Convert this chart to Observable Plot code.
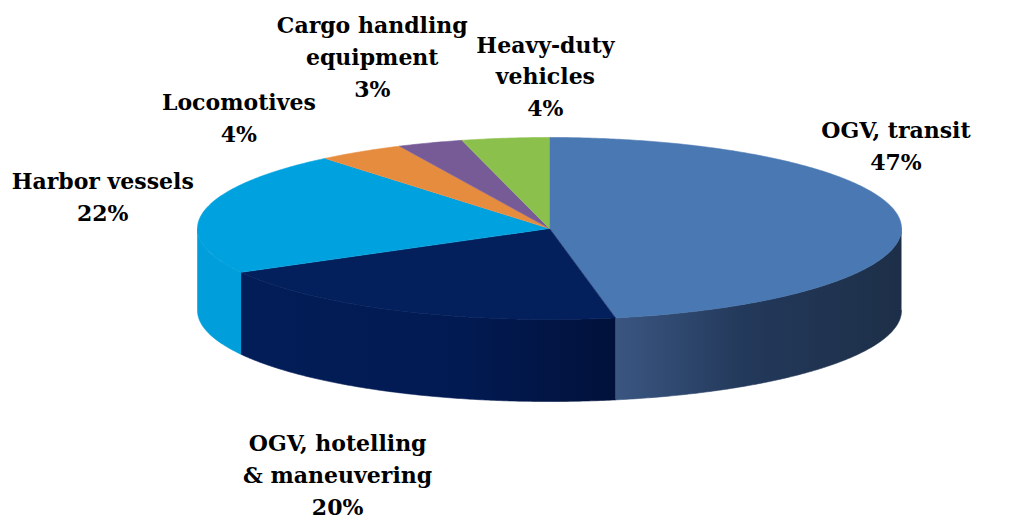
<!DOCTYPE html>
<html><head><meta charset="utf-8">
<script src="https://cdn.jsdelivr.net/npm/d3@7"></script>
<script src="https://cdn.jsdelivr.net/npm/@observablehq/plot@0.6"></script>
<style>body{margin:0;background:#fff}#chart svg{display:block}</style>
</head><body><div id="chart"></div>
<script>
// ---- data ----
const categories = ["OGV, transit", "OGV, hotelling\n& maneuvering", "Harbor vessels", "Locomotives", "Cargo handling\nequipment", "Heavy-duty\nvehicles"];
const shares = [47, 20, 22, 4, 3, 4];

// ---- styles / layout ----
const topColors = ["#4a78b2", "#03205c", "#00a1df", "#e68c3f", "#765b97", "#8cc04c"];
const sideFills = ["url(#sideTransit)", "url(#sideHotel)", "#009fdc", "#c9772f", "#604a7d", "#74a23c"];
const labelNudge = [[-4, -76], [-62, 162], [-101, -17], [-122, -36], [-58, -88], [40, -64]]; // px offsets from rim
const W = 1009, H = 521, PX = 352, CX = 549, CY = 228;
const tilt = 91 / 352, depth = 82 / 352;
const FONT = "'DejaVu Serif', serif";

const total = d3.sum(shares);
let acc = 0;
const slices = shares.map((v, i) => {
  const a0 = acc / total * 2 * Math.PI; acc += v;
  const a1 = acc / total * 2 * Math.PI;
  return {i, a0, a1, mid: (a0 + a1) / 2};
});
function arc(a0, a1) {
  const n = Math.max(2, Math.ceil((a1 - a0) / (Math.PI / 360)));
  return d3.range(n + 1).map(k => a0 + (a1 - a0) * k / n);
}
const topPts = [], sidePts = [];
for (const s of slices) {
  topPts.push({slice: s.i, x: 0, y: 0, fill: topColors[s.i]});
  for (const t of arc(s.a0, s.a1)) topPts.push({slice: s.i, x: Math.sin(t), y: Math.cos(t) * tilt, fill: topColors[s.i]});
  const st = Math.max(s.a0, Math.PI / 2), en = Math.min(s.a1, 3 * Math.PI / 2);
  if (st < en) {
    const ts = arc(st, en);
    for (const t of ts) sidePts.push({slice: s.i, x: Math.sin(t), y: Math.cos(t) * tilt, fill: sideFills[s.i]});
    for (const t of ts.slice().reverse()) sidePts.push({slice: s.i, x: Math.sin(t), y: Math.cos(t) * tilt - depth, fill: sideFills[s.i]});
  }
}
const labels = slices.map(s => ({
  x: Math.sin(s.mid) + labelNudge[s.i][0] / PX,
  y: Math.cos(s.mid) * tilt - labelNudge[s.i][1] / PX,
  text: categories[s.i] + "\n" + shares[s.i] + "%"
}));

const plot = Plot.plot({
  width: W, height: H,
  margin: 0,
  style: {fontFamily: FONT, background: "#fff"},
  x: {domain: [-CX / PX, (W - CX) / PX], axis: null},
  y: {domain: [-(H - CY) / PX, CY / PX], axis: null},
  color: {type: "identity"},
  marks: [
    Plot.line(sidePts, {x: "x", y: "y", z: "slice", fill: "fill", stroke: "fill", strokeWidth: 0.6}),
    Plot.line(topPts, {x: "x", y: "y", z: "slice", fill: "fill", stroke: "fill", strokeWidth: 0.6}),
    Plot.text(labels, {x: "x", y: "y", text: "text", fontSize: 22, fontWeight: "bold",
      fontFamily: FONT, lineHeight: 1.45, fill: "#000"})
  ]
});
d3.select(plot).insert("defs", ":first-child").html(`
  <linearGradient id="sideTransit" x1="0" x2="1" y1="0" y2="0">
    <stop offset="0" stop-color="#3a5681"/><stop offset="0.45" stop-color="#23395b"/><stop offset="1" stop-color="#1d2f48"/>
  </linearGradient>
  <linearGradient id="sideHotel" x1="0" x2="1" y1="0" y2="0">
    <stop offset="0" stop-color="#021d58"/><stop offset="0.6" stop-color="#021a52"/><stop offset="1" stop-color="#01113a"/>
  </linearGradient>`);
document.getElementById("chart").append(plot);
</script></body></html>
